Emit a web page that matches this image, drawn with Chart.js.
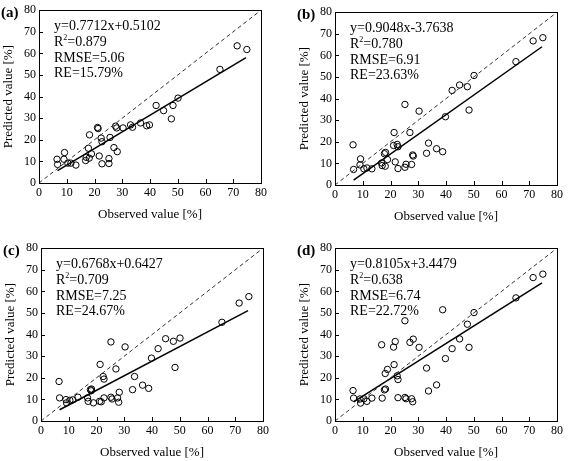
<!DOCTYPE html>
<html>
<head>
<meta charset="utf-8">
<script src="https://cdn.jsdelivr.net/npm/chart.js@4.4.1/dist/chart.umd.min.js"></script>
<style>
  html, body { margin: 0; padding: 0; background: #fff; }
  #wrap { position: relative; width: 568px; height: 461px; overflow: hidden; background: #fff; }
  .panel { position: absolute; width: 270px; height: 230px; }
</style>
</head>
<body>
<div id="wrap">
  <div class="panel" style="left:0px;top:0px"><canvas id="chartA" width="270" height="230"></canvas></div>
  <div class="panel" style="left:296px;top:2px"><canvas id="chartB" width="270" height="230"></canvas></div>
  <div class="panel" style="left:2px;top:238px"><canvas id="chartC" width="270" height="230"></canvas></div>
  <div class="panel" style="left:296px;top:238px"><canvas id="chartD" width="270" height="230"></canvas></div>
</div>
<script>
    'use strict';

    // observed values, same samples in every panel
    var observed = [6.5, 6.7, 9.0, 9.2, 10.4, 11.5, 13.3, 16.8, 17.0, 17.8,
                    18.2, 18.1, 18.9, 21.3, 21.1, 21.7, 22.4, 22.7, 22.7, 25.2,
                    25.6, 25.2, 27.0, 27.6, 28.0, 28.2, 30.3, 33.0, 33.7, 36.6,
                    38.8, 39.8, 42.2, 44.9, 47.7, 48.3, 50.1, 65.2, 71.4, 74.9];

    // predicted values for each model
    var predA = [11.0, 8.6, 11.0, 14.1, 9.2, 9.2, 8.3, 10.4, 11.9, 16.1,
                 22.3, 11.5, 13.5, 25.2, 25.7, 12.5, 20.8, 19.1, 8.9, 11.3,
                 21.1, 9.0, 16.4, 26.3, 25.5, 14.5, 25.5, 26.9, 25.8, 27.8,
                 26.5, 26.9, 35.9, 33.5, 29.7, 35.9, 39.3, 52.6, 63.5, 61.8];
    var predB = [18.6, 7.2, 9.3, 12.1, 7.5, 7.9, 7.5, 10.2, 9.0, 14.5,
                 15.1, 8.7, 11.8, 24.3, 18.3, 10.7, 18.8, 17.7, 7.6, 37.3,
                 9.6, 8.2, 24.3, 9.5, 13.9, 13.4, 34.2, 14.7, 19.4, 16.8,
                 15.4, 31.6, 43.8, 46.3, 45.5, 34.7, 50.7, 57.1, 66.7, 68.2];
    var predC = [18.3, 10.7, 9.9, 8.4, 9.6, 9.8, 11.0, 10.7, 9.1, 14.5,
                 14.8, 14.0, 8.4, 26.2, 9.1, 8.9, 20.6, 19.4, 10.7, 36.6,
                 10.2, 11.0, 24.1, 10.7, 8.7, 13.3, 34.3, 14.5, 20.6, 16.6,
                 15.1, 29.1, 33.5, 38.1, 36.9, 24.8, 38.4, 45.7, 54.6, 57.6];
    var predD = [14.1, 10.6, 10.2, 8.3, 10.3, 9.1, 10.6, 35.3, 10.6, 14.4,
                 14.8, 22.0, 23.9, 26.1, 34.2, 36.8, 20.9, 19.2, 10.8, 46.4,
                 10.3, 10.9, 36.4, 10.3, 8.9, 37.9, 34.1, 24.5, 13.9, 16.7,
                 51.5, 28.9, 33.5, 38.0, 44.8, 34.1, 50.2, 57.0, 66.4, 68.0];

    // fitted line end points
    var fitX = [6.7, 74.6];
    var fitA = [5.7, 58.0];
    var fitB = [2.3, 64.0];
    var fitC = [5.2, 51.1];
    var fitD = [8.9, 63.9];

    var panelLabels = ['(a)', '(b)', '(c)', '(d)'];
    var equations = ['y=0.7712x+0.5102', 'y=0.9048x-3.7638', 'y=0.6768x+0.6427', 'y=0.8105x+3.4479'];
    var r2Values = ['0.879', '0.780', '0.709', '0.638'];
    var rmseValues = ['5.06', '6.91', '7.25', '6.74'];
    var reValues = ['15.79%', '23.63%', '24.67%', '22.72%'];

    var axisMin = 0, axisMax = 80, axisStep = 10;
    var serif = '"Liberation Serif", "DejaVu Serif", serif';

    function toPoints(xs, ys) {
        return xs.map(function(x, i) { return {x: x, y: ys[i]}; });
    }

    // frame, inward ticks and the text block of each panel
    var framePlugin = {
        id: 'frameAndText',
        afterDraw: function(chart) {
            var ctx = chart.ctx;
            var a = chart.chartArea;
            var xs = chart.scales.x, ys = chart.scales.y;
            var i = chart.options.plugins.frameAndText.index;

            ctx.save();
            ctx.strokeStyle = '#000';
            ctx.lineWidth = 1;
            ctx.strokeRect(Math.round(a.left) + 0.5, Math.round(a.top) + 0.5,
                           Math.round(a.right - a.left), Math.round(a.bottom - a.top));

            ctx.beginPath();
            xs.ticks.forEach(function(t) {
                var px = Math.round(xs.getPixelForValue(t.value)) + 0.5;
                ctx.moveTo(px, a.bottom);
                ctx.lineTo(px, a.bottom - 4);
            });
            ys.ticks.forEach(function(t) {
                var py = Math.round(ys.getPixelForValue(t.value)) + 0.5;
                ctx.moveTo(a.left, py);
                ctx.lineTo(a.left + 4, py);
            });
            ctx.stroke();

            ctx.fillStyle = '#000';
            ctx.textBaseline = 'middle';
            ctx.textAlign = 'left';
            ctx.font = 'bold 15px ' + serif;
            ctx.fillText(panelLabels[i], 1, a.top + 3);

            var tx = a.left + 15;
            ctx.font = '14px ' + serif;
            ctx.fillText(equations[i], tx, a.top + 16);
            ctx.fillText('R', tx, a.top + 32);
            var rw = ctx.measureText('R').width;
            ctx.font = '8px ' + serif;
            ctx.fillText('2', tx + rw, a.top + 28);
            var sw = ctx.measureText('2').width;
            ctx.font = '14px ' + serif;
            ctx.fillText('=' + r2Values[i], tx + rw + sw, a.top + 32);
            ctx.fillText('RMSE=' + rmseValues[i], tx, a.top + 48);
            ctx.fillText('RE=' + reValues[i], tx, a.top + 63);
            ctx.restore();
        }
    };

    function makeChart(canvasId, index, pred, fit) {
        var ctx = document.getElementById(canvasId).getContext('2d');
        return new Chart(ctx, {
            type: 'scatter',
            data: {
                datasets: [
                    {
                        label: '1:1',
                        type: 'line',
                        data: [{x: axisMin, y: axisMin}, {x: axisMax, y: axisMax}],
                        borderColor: '#333',
                        borderWidth: 1,
                        borderDash: [4, 3],
                        pointRadius: 0,
                        fill: false
                    },
                    {
                        label: 'fit',
                        type: 'line',
                        data: toPoints(fitX, fit),
                        borderColor: '#000',
                        borderWidth: 1.5,
                        pointRadius: 0,
                        fill: false
                    },
                    {
                        label: 'samples',
                        data: toPoints(observed, pred),
                        pointStyle: 'circle',
                        pointRadius: 3.2,
                        borderColor: '#000',
                        borderWidth: 1,
                        backgroundColor: 'rgba(0,0,0,0)'
                    }
                ]
            },
            options: {
                responsive: false,
                animation: false,
                layout: { padding: { left: 0, right: 5, top: 9, bottom: 0 } },
                plugins: {
                    legend: { display: false },
                    tooltip: { enabled: false },
                    frameAndText: { index: index }
                },
                scales: {
                    x: {
                        type: 'linear',
                        min: axisMin,
                        max: axisMax,
                        afterFit: function(scale) { scale.height = 47; },
                        ticks: {
                            stepSize: axisStep,
                            color: '#000',
                            padding: 3,
                            maxRotation: 0,
                            font: { family: serif, size: 12 }
                        },
                        grid: { display: false, drawTicks: false },
                        border: { display: false },
                        title: {
                            display: true,
                            text: 'Observed value [%]',
                            color: '#000',
                            font: { family: serif, size: 13 },
                            padding: { top: 4, bottom: 8 }
                        }
                    },
                    y: {
                        type: 'linear',
                        min: axisMin,
                        max: axisMax,
                        afterFit: function(scale) { scale.width = 39; },
                        ticks: {
                            stepSize: axisStep,
                            color: '#000',
                            padding: 3,
                            font: { family: serif, size: 12 }
                        },
                        grid: { display: false, drawTicks: false },
                        border: { display: false },
                        title: {
                            display: true,
                            text: 'Predicted value [%]',
                            color: '#000',
                            font: { family: serif, size: 13 },
                            padding: { top: 1, bottom: 0 }
                        }
                    }
                }
            },
            plugins: [framePlugin]
        });
    }

    makeChart('chartA', 0, predA, fitA);
    makeChart('chartB', 1, predB, fitB);
    makeChart('chartC', 2, predC, fitC);
    makeChart('chartD', 3, predD, fitD);
</script>
</body>
</html>
